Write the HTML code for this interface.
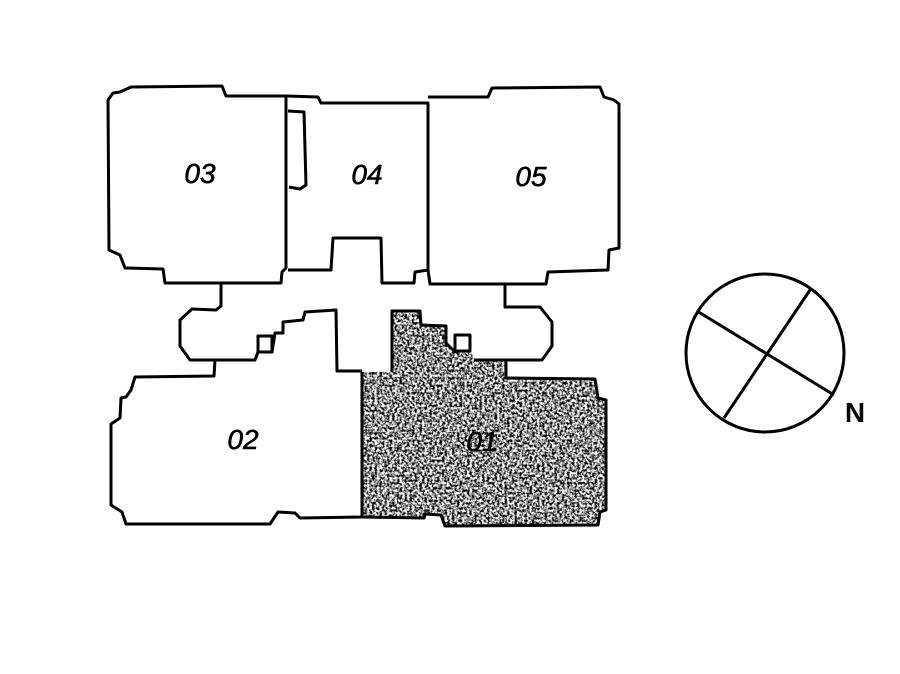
<!DOCTYPE html>
<html><head><meta charset="utf-8"><style>html,body{margin:0;padding:0;background:#fff}svg{display:block}</style></head>
<body>
<svg width="900" height="674" viewBox="0 0 900 674" xmlns="http://www.w3.org/2000/svg">
<defs>
<filter id="spk" x="0" y="0" width="100%" height="100%">
<feTurbulence type="fractalNoise" baseFrequency="0.4" numOctaves="2" seed="3" result="n"/>
<feColorMatrix type="matrix" values="0 0 0 0 0  0 0 0 0 0  0 0 0 0 0  -3 0 0 0 1.95" in="n" result="a"/>
<feComposite in="SourceGraphic" in2="a" operator="in"/>
</filter>
<clipPath id="c01"><path d="M392,311 L420,311 L421,325 L446,326 L446,343 L455,352 L472,352 L474,360 L505,361 L506,378 L595,379 L598,398 L606,400 L606,510 L600,512 L598,525 L445,526 L441,515 L425,514 L424,518 L362,517 L361,372 L392,372 Z"/></clipPath>
</defs>
<g fill="none" stroke="#000" stroke-width="3" stroke-linejoin="round">
<path d="M108,100 L113,93 L120,92 L131,87 L222,86 L226,96 L286,96 L286,268 L282,272 L281,283 L165,283 L163,269 L125,268 L120,255 L109,250 Z"/>
<path d="M286,96 L318,97 L321,103 L428,103 L428,270 L415,272 L414,283 L382,283 L381,238 L333,238 L331,270 L288,270"/>
<path d="M288,111 L304,112 L306,185 L300,189 L289,187"/>
<path d="M428,97 L488,97 L492,88 L600,87 L604,97 L614,100 L619,104 L619,248 L609,250 L608,270 L548,272 L546,284 L430,284 L428,270"/>
<path d="M505,284 L505,307 L540,307 L552,322 L552,346 L542,360 L474,360"/>
<path d="M221,283 L221,306 L216,310 L192,309 L180,320 L180,346 L190,360 L255,360 L258,352 L272,352 L275,333 L283,333 L283,322 L303,320 L305,312 L336,310 L337,371 L362,371"/>
<rect x="258" y="336" width="14" height="16"/>
<path d="M215,360 L214,376 L135,377 L131,390 L126,397 L121,398 L120,418 L111,424 L111,505 L122,512 L126,524 L270,524 L278,512 L295,513 L300,518 L362,517 L362,372"/>
<rect x="455" y="335" width="15" height="16"/>
</g>
<rect x="355" y="300" width="260" height="230" fill="#000" filter="url(#spk)" clip-path="url(#c01)"/>
<g fill="none" stroke="#000" stroke-width="3" stroke-linejoin="round">
<path d="M392,372 L392,311 L420,311 L421,325 L446,326 L446,343 L455,352 M506,361 L506,378 L595,379 L598,398 L606,400 L606,510 L600,512 L598,525 L445,526 L441,515 L425,514 L424,518 L362,517"/>
</g>
<g font-family="'Liberation Sans',sans-serif" font-style="italic" font-size="28" text-anchor="middle" fill="#000" stroke="#000" stroke-width="0.6">
<text x="200" y="183">03</text>
<text x="367" y="184">04</text>
<text x="531" y="186">05</text>
<text x="243" y="449">02</text>
<text x="482" y="451">01</text>
</g>
<circle cx="765" cy="353" r="79" fill="none" stroke="#000" stroke-width="3"/>
<line x1="697" y1="311" x2="834" y2="395" stroke="#000" stroke-width="3"/>
<line x1="810" y1="290" x2="724" y2="418" stroke="#000" stroke-width="3"/>
<text x="855" y="422" font-family="'Liberation Sans',sans-serif" font-weight="bold" font-size="28" text-anchor="middle">N</text>
</svg>
</body></html>
